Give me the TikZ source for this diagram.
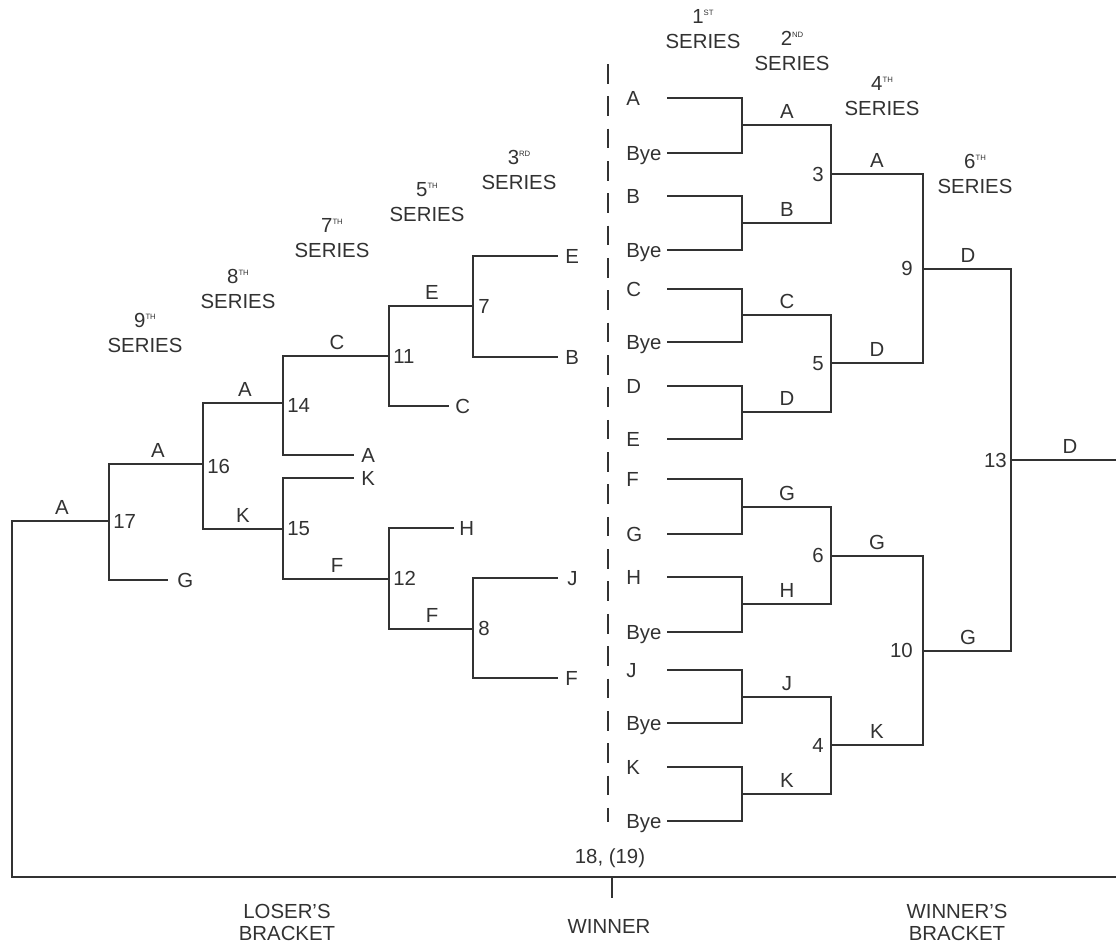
\documentclass[tikz,border=0pt]{standalone}
\usepackage{fontspec}
\setmainfont{Liberation Sans}
\usetikzlibrary{positioning}
\definecolor{inkgray}{RGB}{50,50,50}
\newcommand{\ordnum}[2]{#1\raisebox{5.5pt}{\fontsize{5.5}{6}\selectfont #2}}

\begin{document}
\begin{tikzpicture}[
    x=0.025cm, y=-0.025cm,
    font=\fontsize{14.5}{17.5}\selectfont,
    bline/.style={line width=1.5pt, draw=inkgray, line cap=rect},
    heavy/.style={bline, line width=1.85pt},
    lbl/.style={inner sep=0pt, text=inkgray},
    hdr/.style={lbl, align=center}
]

\useasboundingbox (0,0) rectangle (1116,947);

% ============================================================
% Series headings (base = baseline of the SERIES line)
% ============================================================
\node[hdr, anchor=base] (s1) at (703,48)  {\ordnum{1}{ST}\\SERIES};
\node[hdr, anchor=base] (s2) at (792,70)  {\ordnum{2}{ND}\\SERIES};
\node[hdr, anchor=base] (s4) at (882,115) {\ordnum{4}{TH}\\SERIES};
\node[hdr, anchor=base] (s6) at (975,193) {\ordnum{6}{TH}\\SERIES};
\node[hdr, anchor=base] (s3) at (519,189) {\ordnum{3}{RD}\\SERIES};
\node[hdr, anchor=base] (s5) at (427,221) {\ordnum{5}{TH}\\SERIES};
\node[hdr, anchor=base] (s7) at (332,257) {\ordnum{7}{TH}\\SERIES};
\node[hdr, anchor=base] (s8) at (238,308) {\ordnum{8}{TH}\\SERIES};
\node[hdr, anchor=base] (s9) at (145,352) {\ordnum{9}{TH}\\SERIES};

% ============================================================
% WINNER'S BRACKET
% ============================================================
% 1st series entries
\foreach \n/\t/\y/\s in {ra/A/98/heavy, rab/Bye/153/heavy, rb/B/196/bline,
    rbb/Bye/250/bline, rc/C/289/bline, rcb/Bye/342/bline, rd/D/386/bline,
    re/E/439/bline, rf/F/479/bline, rg/G/534/bline, rh/H/577/heavy,
    rhb/Bye/632/heavy, rj/J/670/bline, rjb/Bye/723/heavy, rk/K/767/bline,
    rkb/Bye/821/bline} {
    \node[lbl, anchor=base west] (\n) at (626,\y+7) {\t};
    \draw[\s] (668,\y) -- (742,\y);
}
\foreach \ya/\yb in {98/153, 196/250, 289/342, 386/439, 479/534, 577/632,
    670/723, 767/821}
    \draw[bline] (742,\ya) -- (742,\yb);

% 2nd series
\foreach \n/\t/\y/\s in {wa/A/125/heavy, wb/B/223/bline, wc/C/315/bline,
    wd/D/412/bline, wg/G/507/bline, wh/H/604/heavy, wj/J/697/heavy,
    wk/K/794/bline} {
    \draw[\s] (742,\y) -- (831,\y);
    \node[lbl, anchor=base] (\n) at (787,\y-7) {\t};
}
\foreach \g/\ya/\yb in {3/125/223, 5/315/412, 6/507/604, 4/697/794} {
    \draw[bline] (831,\ya) -- (831,\yb);
    \node[lbl, anchor=base east] (g\g) at (824,{(\ya+\yb)/2+7}) {\g};
}

% 4th series
\foreach \n/\t/\y/\s in {xa/A/174/heavy, xd/D/363/heavy, xg/G/556/bline,
    xk/K/745/bline} {
    \draw[\s] (831,\y) -- (923,\y);
    \node[lbl, anchor=base] (\n) at (877,\y-7) {\t};
}
\foreach \g/\ya/\yb in {9/174/363, 10/556/745} {
    \draw[bline] (923,\ya) -- (923,\yb);
    \node[lbl, anchor=base east] (g\g) at (913,{(\ya+\yb)/2+7}) {\g};
}

% 6th series
\draw[bline] (923,269) -- (1011,269);
\node[lbl, anchor=base] (yd) at (968,262) {D};
\draw[heavy] (923,651) -- (1011,651);
\node[lbl, anchor=base] (yg) at (968,644) {G};
\draw[bline] (1011,269) -- (1011,651);
\node[lbl, anchor=base east] (g13) at (1007,467) {13};
\draw[heavy] (1011,460) -- (1116,460);
\node[lbl, anchor=base] (zd) at (1070,453) {D};

% ============================================================
% LOSER'S BRACKET
% ============================================================
% 3rd series
\draw[bline] (557,256) -- (473,256) -- (473,357) -- (557,357);
\draw[heavy] (557,578) -- (473,578);
\draw[bline] (473,578) -- (473,678) -- (557,678);
% 5th series
\draw[heavy] (473,306) -- (389,306);
\draw[bline] (389,306) -- (389,406) -- (448,406);
\draw[heavy] (453,528) -- (389,528);
\draw[bline] (389,528) -- (389,629) -- (473,629);
% 7th series
\draw[heavy] (389,356) -- (283,356);
\draw[bline] (283,356) -- (283,455) -- (353,455);
\draw[heavy] (353,478) -- (283,478);
\draw[bline] (283,478) -- (283,579) -- (389,579);
% 8th series
\draw[bline] (283,403) -- (203,403) -- (203,529) -- (283,529);
% 9th series
\draw[bline] (203,464) -- (109,464) -- (109,580) -- (167,580);
% final
\draw[bline] (109,521) -- (12,521) -- (12,877) -- (1116,877);
\draw[bline] (612,877) -- (612,897);

% Entries
\node[lbl, anchor=base west] (le) at (565,263) {E};
\node[lbl, anchor=base west] (lb) at (565,364) {B};
\node[lbl, anchor=base west] (lj) at (567,585) {J};
\node[lbl, anchor=base west] (lf) at (565,685) {F};
\node[lbl, anchor=base west] (lc) at (455,413) {C};
\node[lbl, anchor=base west] (lh) at (459,535) {H};
\node[lbl, anchor=base west] (la) at (361,462) {A};
\node[lbl, anchor=base west] (lk) at (361,485) {K};
\node[lbl, anchor=base west] (lg) at (177,587) {G};

% Winners
\node[lbl, anchor=base] (me) at (432,299) {E};
\node[lbl, anchor=base] (mf) at (432,622) {F};
\node[lbl, anchor=base] (mc) at (337,349) {C};
\node[lbl, anchor=base] (mf2) at (337,572) {F};
\node[lbl, anchor=base] (ma) at (245,396) {A};
\node[lbl, anchor=base] (mk) at (243,522) {K};
\node[lbl, anchor=base] (ma2) at (158,457) {A};
\node[lbl, anchor=base] (ma3) at (62,514) {A};

% Series numbers
\node[lbl, anchor=base west] (g7)  at (478,313) {7};
\node[lbl, anchor=base west] (g8)  at (478,635) {8};
\node[lbl, anchor=base west] (g11) at (393,363) {11};
\node[lbl, anchor=base west] (g12) at (393,585) {12};
\node[lbl, anchor=base west] (g14) at (287,412) {14};
\node[lbl, anchor=base west] (g15) at (287,535) {15};
\node[lbl, anchor=base west] (g16) at (207,473) {16};
\node[lbl, anchor=base west] (g17) at (113,528) {17};

% Divider
\draw[bline, line width=1.4pt, line cap=butt, dash pattern=on 14pt off 9pt]
    (608,64) -- (608,822);

% ============================================================
% Bottom labels
% ============================================================
\node[lbl, anchor=base] (g18) at (610,863) {18, (19)};
\node[lbl, anchor=base] (win) at (609,933) {WINNER};
\node[lbl, anchor=base, align=center, font=\fontsize{14.5}{15}\selectfont]
    (lose) at (287,940) {LOSER'S\\BRACKET};
\node[lbl, anchor=base, align=center, font=\fontsize{14.5}{15}\selectfont]
    (wbr) at (957,940) {WINNER'S\\BRACKET};

\end{tikzpicture}
\end{document}
